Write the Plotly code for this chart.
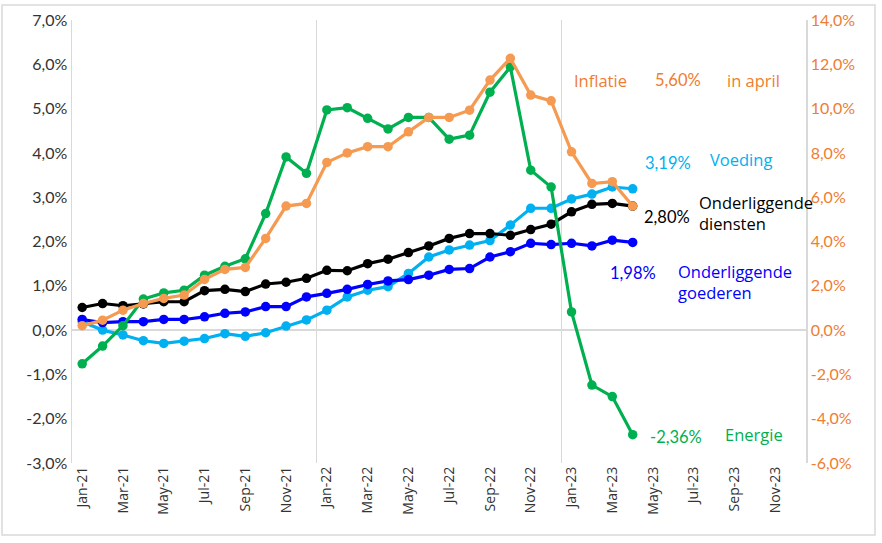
import plotly.graph_objects as go

# ---- data -------------------------------------------------------------
months = ["Jan", "Feb", "Mar", "Apr", "May", "Jun", "Jul", "Aug", "Sep", "Oct", "Nov", "Dec"]
categories = [f"{m}-{y}" for y in ("21", "22", "23") for m in months]

# left axis (%)
energie = [-0.76, -0.36, 0.10, 0.70, 0.84, 0.90, 1.24, 1.44, 1.61, 2.63, 3.91, 3.54,
           4.97, 5.02, 4.78, 4.54, 4.80, 4.80, 4.31, 4.40, 5.37, 5.94, 3.61, 3.23,
           0.41, -1.24, -1.50, -2.36]
diensten = [0.51, 0.60, 0.55, 0.59, 0.64, 0.64, 0.89, 0.92, 0.87, 1.04, 1.08, 1.17,
            1.35, 1.34, 1.50, 1.60, 1.75, 1.90, 2.07, 2.18, 2.18, 2.14, 2.27, 2.39,
            2.67, 2.84, 2.86, 2.80]
goederen = [0.24, 0.17, 0.19, 0.19, 0.24, 0.24, 0.30, 0.38, 0.41, 0.53, 0.53, 0.75,
            0.83, 0.92, 1.03, 1.11, 1.14, 1.24, 1.37, 1.39, 1.65, 1.77, 1.96, 1.93,
            1.96, 1.90, 2.03, 1.98]
voeding = [0.19, 0.00, -0.11, -0.24, -0.30, -0.25, -0.19, -0.08, -0.14, -0.06, 0.09, 0.23,
           0.45, 0.75, 0.90, 0.98, 1.28, 1.65, 1.81, 1.92, 2.02, 2.37, 2.75, 2.75,
           2.96, 3.07, 3.23, 3.19]
# right axis (%)
inflatie = [0.20, 0.45, 0.90, 1.20, 1.43, 1.58, 2.29, 2.74, 2.83, 4.14, 5.60, 5.72,
            7.57, 8.00, 8.28, 8.28, 8.95, 9.60, 9.60, 9.93, 11.29, 12.27, 10.61, 10.35,
            8.05, 6.62, 6.70, 5.60]

left_ticks = [-3, -2, -1, 0, 1, 2, 3, 4, 5, 6, 7]
right_ticks = [-6, -4, -2, 0, 2, 4, 6, 8, 10, 12, 14]

# ---- styling ----------------------------------------------------------
C_GREEN = "#00B050"
C_ORANGE = "#F59A50"
C_ORANGE_TXT = "#EE7D31"
C_BLACK = "#000000"
C_BLUE = "#0000FF"
C_CYAN = "#00B0F0"
GRID = "#D9D9D9"
NUMFONT = "Lato"
TXTFONT = "Open Sans"

x_idx = list(range(len(inflatie)))


def pct(v, d):
    return f"{v:.{d}f}".replace(".", ",") + "%"


fig = go.Figure()


def add_line(vals, color, name, yaxis="y"):
    fig.add_trace(go.Scatter(
        x=x_idx, y=vals, mode="lines+markers", name=name, yaxis=yaxis,
        line=dict(color=color, width=3.2),
        marker=dict(color=color, size=9.5),
        hoverinfo="skip", showlegend=False,
    ))


add_line(voeding, C_CYAN, "Voeding")
add_line(goederen, C_BLUE, "Onderliggende goederen")
add_line(diensten, C_BLACK, "Onderliggende diensten")
add_line(energie, C_GREEN, "Energie")
add_line(inflatie, C_ORANGE, "Inflatie", yaxis="y2")

ann = [
    # (x, y, text, color, font, size)
    (24.0, 5.64, "Inflatie", C_ORANGE_TXT, TXTFONT, 16.5),
    (27.98, 5.64, pct(inflatie[-1], 2), C_ORANGE_TXT, NUMFONT, 16.5),
    (31.55, 5.64, "in april", C_ORANGE_TXT, TXTFONT, 16.5),
    (27.49, 3.77, pct(voeding[-1], 2), C_CYAN, NUMFONT, 16.5),
    (30.67, 3.84, "Voeding", C_CYAN, TXTFONT, 16.5),
    (27.44, 2.55, pct(diensten[-1], 2), C_BLACK, NUMFONT, 16.5),
    (30.14, 2.64, "Onderliggende<br>diensten", C_BLACK, TXTFONT, 16.5),
    (25.77, 1.29, pct(goederen[-1], 2), C_BLUE, NUMFONT, 16.5),
    (29.11, 1.08, "Onderliggende<br>goederen", C_BLUE, TXTFONT, 16.5),
    (27.74, -2.42, pct(energie[-1], 2), C_GREEN, NUMFONT, 16.5),
    (31.41, -2.35, "Energie", C_GREEN, TXTFONT, 16.5),
]
for x, y, t, c, f, s in ann:
    fig.add_annotation(x=x, y=y, xref="x", yref="y", text=t, showarrow=False,
                       xanchor="left", yanchor="middle", align="left",
                       font=dict(color=c, family=f, size=s))

# outer border of the picture
fig.add_shape(type="rect", xref="paper", yref="paper",
              x0=-0.0954, x1=1.094, y0=-0.1625, y1=1.034,
              line=dict(color=GRID, width=1.5), fillcolor="rgba(0,0,0,0)", layer="below")

fig.update_layout(
    width=882, height=543,
    margin=dict(l=72, r=76, t=20, b=80, autoexpand=False),
    paper_bgcolor="white", plot_bgcolor="white",
    font=dict(family=NUMFONT, color="#404040"),
    xaxis=dict(
        range=[-0.5, 35.5], tickmode="array",
        tickvals=list(range(0, 36, 2)),
        ticktext=[categories[i] for i in range(0, 36, 2)],
        tickangle=-90, showgrid=False, zeroline=False, showline=False,
        ticks="", automargin=False,
        tickfont=dict(family=TXTFONT, size=14, color="#333333"),
        minor=dict(tick0=-0.5, dtick=12, showgrid=True, gridcolor=GRID, gridwidth=1.5),
    ),
    yaxis=dict(
        range=[-3, 7], tickmode="array", tickvals=left_ticks,
        ticktext=[pct(v, 1) for v in left_ticks], showgrid=False,
        zeroline=True, zerolinecolor=GRID, zerolinewidth=1.5,
        showline=True, linecolor=GRID, linewidth=1.5, ticks="", automargin=False,
        tickfont=dict(family=NUMFONT, size=16, color="#333333"),
    ),
    yaxis2=dict(
        range=[-6, 14], tickmode="array", tickvals=right_ticks,
        ticktext=[pct(v, 1) for v in right_ticks], overlaying="y", side="right",
        showgrid=False, zeroline=False, showline=True, linecolor=GRID, linewidth=1.5,
        ticks="", automargin=False,
        tickfont=dict(family=NUMFONT, size=16, color=C_ORANGE_TXT),
    ),
)

fig.write_html(
    "out.html",
    config={"displayModeBar": False, "staticPlot": True},
    post_script="document.body.style.margin='0';document.body.style.overflow='hidden';",
)
